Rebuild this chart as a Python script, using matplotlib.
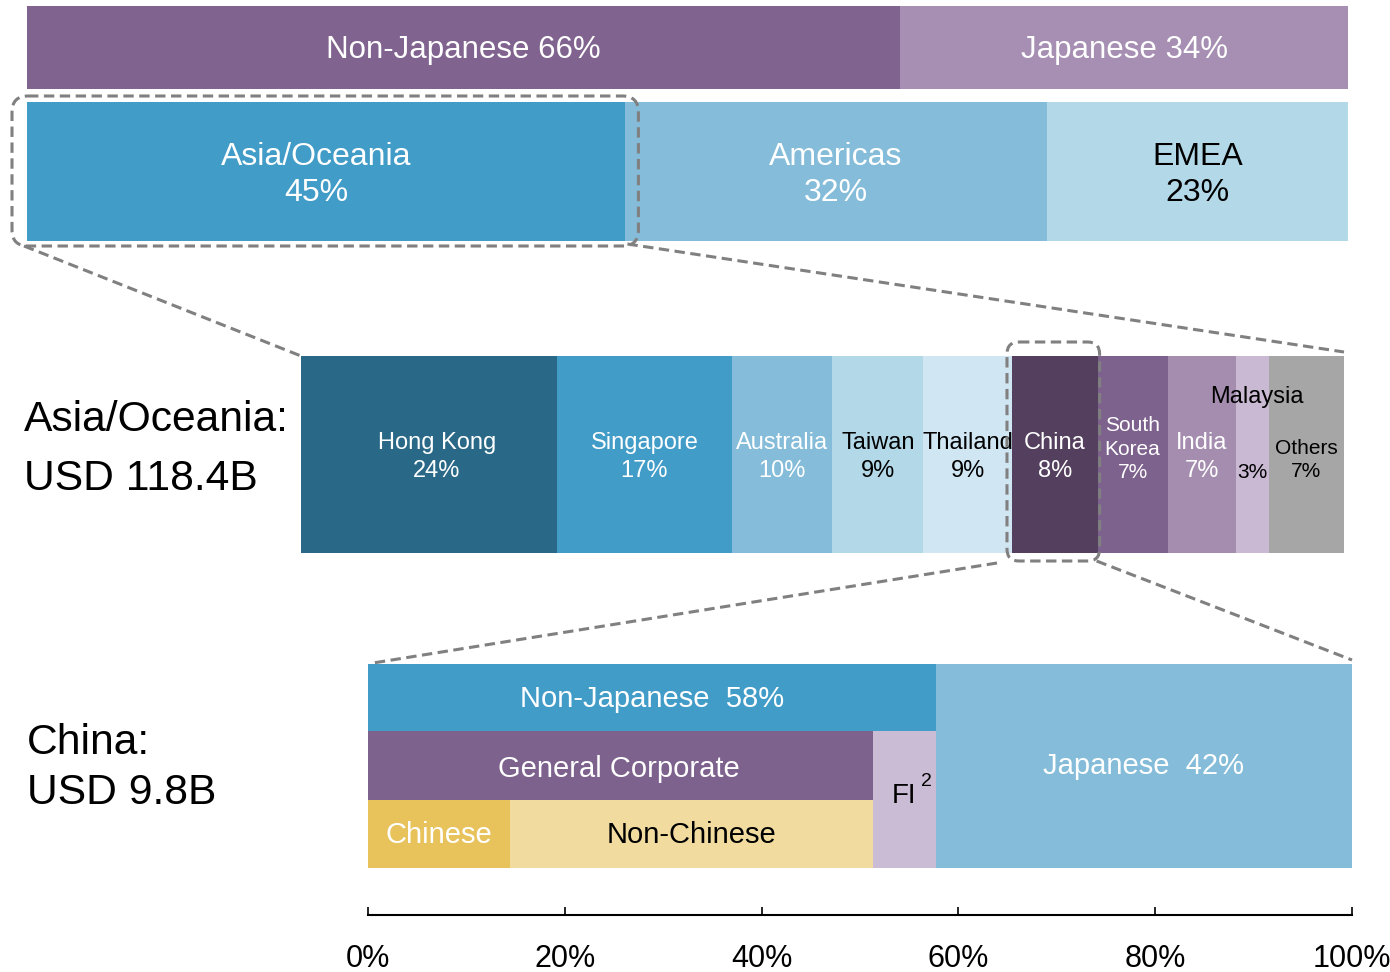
#%% Imports
import matplotlib
matplotlib.use("Agg")
import matplotlib.pyplot as plt
from matplotlib.patches import FancyBboxPatch
import numpy as np

plt.rcParams['font.family'] = ['Liberation Sans', 'DejaVu Sans']

#%% Data
owner_labels = ['Non-Japanese 66%', 'Japanese 34%']
owner_share = [66.1, 33.9]

region_labels = ['Asia/Oceania\n45%', 'Americas\n32%', 'EMEA\n23%']
region_share = [45.3, 31.9, 22.8]

asia_labels = ['Hong Kong\n24%', 'Singapore\n17%', 'Australia\n10%', 'Taiwan\n9%',
               'Thailand\n9%', 'China\n8%', 'South\nKorea\n7%', 'India\n7%', '3%', 'Others\n7%']
asia_share = [24.5, 16.8, 9.6, 8.7, 8.5, 8.2, 6.7, 6.6, 3.1, 7.2]

china_owner_labels = ['Non-Japanese  58%', 'Japanese  42%']
china_owner_share = [57.7, 42.3]
china_type_labels = ['General Corporate', 'FI']
china_type_share = [51.3, 6.4]
china_corp_labels = ['Chinese', 'Non-Chinese']
china_corp_share = [14.4, 36.9]

axis_ticks = [0, 20, 40, 60, 80, 100]

#%% Styles
owner_colors = ['#80638e', '#a68fb2']
region_colors = ['#429cc8', '#84bcd9', '#b3d9e9']
asia_colors = ['#296886', '#429cc8', '#84bcd9', '#b3d9e9', '#d0e6f2',
               '#54405e', '#7e628e', '#a58db0', '#c9b9d2', '#a6a6a6']
asia_text = ['w', 'w', 'w', 'k', 'k', 'w', 'w', 'w', 'k', 'k']
asia_fs = [17, 17, 17, 17, 17, 17, 15, 17, 15, 15]
dash = (0, (3.4, 1.8))
grey = '#808080'

W, H = 1390, 972
fig = plt.figure(figsize=(W / 100, H / 100), dpi=100)
ax = fig.add_axes([0, 0, 1, 1])
ax.set_xlim(0, W)
ax.set_ylim(H, 0)
ax.axis('off')


def draw_row(shares, x0, x1, y0, y1, colors, total=None):
    shares = np.asarray(shares, float)
    total = shares.sum() if total is None else total
    scale = (x1 - x0) / total
    lefts = x0 + np.concatenate([[0], np.cumsum(shares)[:-1]]) * scale
    widths = shares * scale
    ax.barh((y0 + y1) / 2, widths, left=lefts, height=y1 - y0, color=colors, linewidth=0)
    return lefts, widths


# Row 1: ownership
l1, w1 = draw_row(owner_share, 27, 1348, 6, 89, owner_colors)
for l, w, lab in zip(l1, w1, owner_labels):
    ax.text(l + w / 2, 50, lab, ha='center', va='center', color='w', fontsize=22.5)

# Row 2: regions
l2, w2 = draw_row(region_share, 27, 1348, 102, 241, region_colors)
for l, w, lab, c, dx in zip(l2, w2, region_labels, ['w', 'w', 'k'], [-10, 0, 0]):
    ax.text(l + w / 2 + dx, 175, lab, ha='center', va='center', color=c, fontsize=23,
            linespacing=1.22)

# Row 3: Asia/Oceania countries
r3 = (301, 1344, 356, 553)
l3, w3 = draw_row(asia_share, *r3, asia_colors)
for i, (l, w, lab) in enumerate(zip(l3, w3, asia_labels)):
    y, dx, ls = 457, 0, 1.35
    if i == 0:
        dx = 8
    if i == 6:
        y, ls = 449, 1.3
    if i == 8:
        y = 472
    if i == 9:
        y, ls = 460, 1.3
    ax.text(l + w / 2 + dx, y, lab, ha='center', va='center', color=asia_text[i],
            fontsize=asia_fs[i], linespacing=ls)
ax.text(l3[8] + w3[8] / 2 + 4, 397, 'Malaysia', ha='center', va='center', color='k', fontsize=17)

# Row 4: China breakdown
x0, x1 = 368, 1352
ys = [664, 731, 800, 868]
sc = (x1 - x0) / 100
ax.barh((ys[0] + ys[1]) / 2, china_owner_share[0] * sc, left=x0, height=ys[1] - ys[0],
        color='#429cc8', linewidth=0)
ax.barh((ys[0] + ys[3]) / 2, china_owner_share[1] * sc, left=x0 + china_owner_share[0] * sc,
        height=ys[3] - ys[0], color='#84bcd9', linewidth=0)
ax.barh((ys[1] + ys[2]) / 2, china_type_share[0] * sc, left=x0, height=ys[2] - ys[1],
        color='#7e628e', linewidth=0)
ax.barh((ys[1] + ys[3]) / 2, china_type_share[1] * sc, left=x0 + china_type_share[0] * sc,
        height=ys[3] - ys[1], color='#c9bcd4', linewidth=0)
l4, w4 = draw_row(china_corp_share, x0, x0 + sum(china_corp_share) * sc, ys[2], ys[3],
                  ['#e8c35c', '#f1db9f'])

ax.text(x0 + china_owner_share[0] * sc / 2, 699, china_owner_labels[0], ha='center', va='center',
        color='w', fontsize=21)
ax.text(x0 + (china_owner_share[0] + china_owner_share[1] / 2) * sc, 766, china_owner_labels[1],
        ha='center', va='center', color='w', fontsize=21)
ax.text(x0 + china_type_share[0] * sc / 2 - 2, 769, china_type_labels[0], ha='center',
        va='center', color='w', fontsize=21)
fi_x = x0 + (china_type_share[0] + china_type_share[1] / 2) * sc
ax.text(fi_x, 796, china_type_labels[1], ha='center', va='center', color='k', fontsize=20)
ax.text(fi_x + 22, 781, '2', ha='center', va='center', color='k', fontsize=14)
for l, w, lab, c in zip(l4, w4, china_corp_labels, ['w', 'k']):
    ax.text(l + w / 2, 835, lab, ha='center', va='center', color=c, fontsize=21)

# Left-hand titles
ax.text(24, 420, 'Asia/Oceania:', ha='left', va='center', fontsize=30.7)
ax.text(24, 479, 'USD 118.4B', ha='left', va='center', fontsize=30.7)
ax.text(27, 743, 'China:', ha='left', va='center', fontsize=30.7)
ax.text(27, 793, 'USD 9.8B', ha='left', va='center', fontsize=30.7)

# Zoom boxes and connector lines
b1 = (l2[0] - 15, 96, l2[0] + w2[0] + 13, 246)
ax.add_patch(FancyBboxPatch((b1[0], b1[1]), b1[2] - b1[0], b1[3] - b1[1],
                            boxstyle='round,pad=0,rounding_size=16', fc='none',
                            ec=grey, lw=2.2, ls=dash, zorder=5))
b2 = (l3[5] - 5, 342, l3[5] + w3[5] + 2, 561)
ax.add_patch(FancyBboxPatch((b2[0], b2[1]), b2[2] - b2[0], b2[3] - b2[1],
                            boxstyle='round,pad=0,rounding_size=12', fc='none',
                            ec=grey, lw=2.2, ls=dash, zorder=5))
ax.plot([b1[0] + 12, r3[0]], [b1[3], r3[2]], color=grey, lw=2.2, ls=dash)
ax.plot([l2[0] + w2[0] + 2, r3[1]], [b1[3] - 2, r3[2] - 4], color=grey, lw=2.2, ls=dash)
ax.plot([b2[0] - 10, x0 + 5], [b2[3] + 2, ys[0] - 1], color=grey, lw=2.2, ls=dash)
ax.plot([b2[2] - 3, x1], [b2[3], ys[0] - 4], color=grey, lw=2.2, ls=dash)

# Percent scale
axx = fig.add_axes([x0 / W, 1 - 915 / H, (x1 - x0) / W, 0.01])
axx.set_xlim(0, 100)
axx.patch.set_visible(False)
for s in ['top', 'left', 'right']:
    axx.spines[s].set_visible(False)
axx.spines['bottom'].set_linewidth(1.5)
axx.set_yticks([])
axx.set_xticks(axis_ticks)
axx.set_xticklabels([f'{t}%' for t in axis_ticks], fontsize=22)
axx.tick_params(axis='x', direction='in', length=6, width=1.2, pad=21)

fig.savefig('out.png', dpi=100)
